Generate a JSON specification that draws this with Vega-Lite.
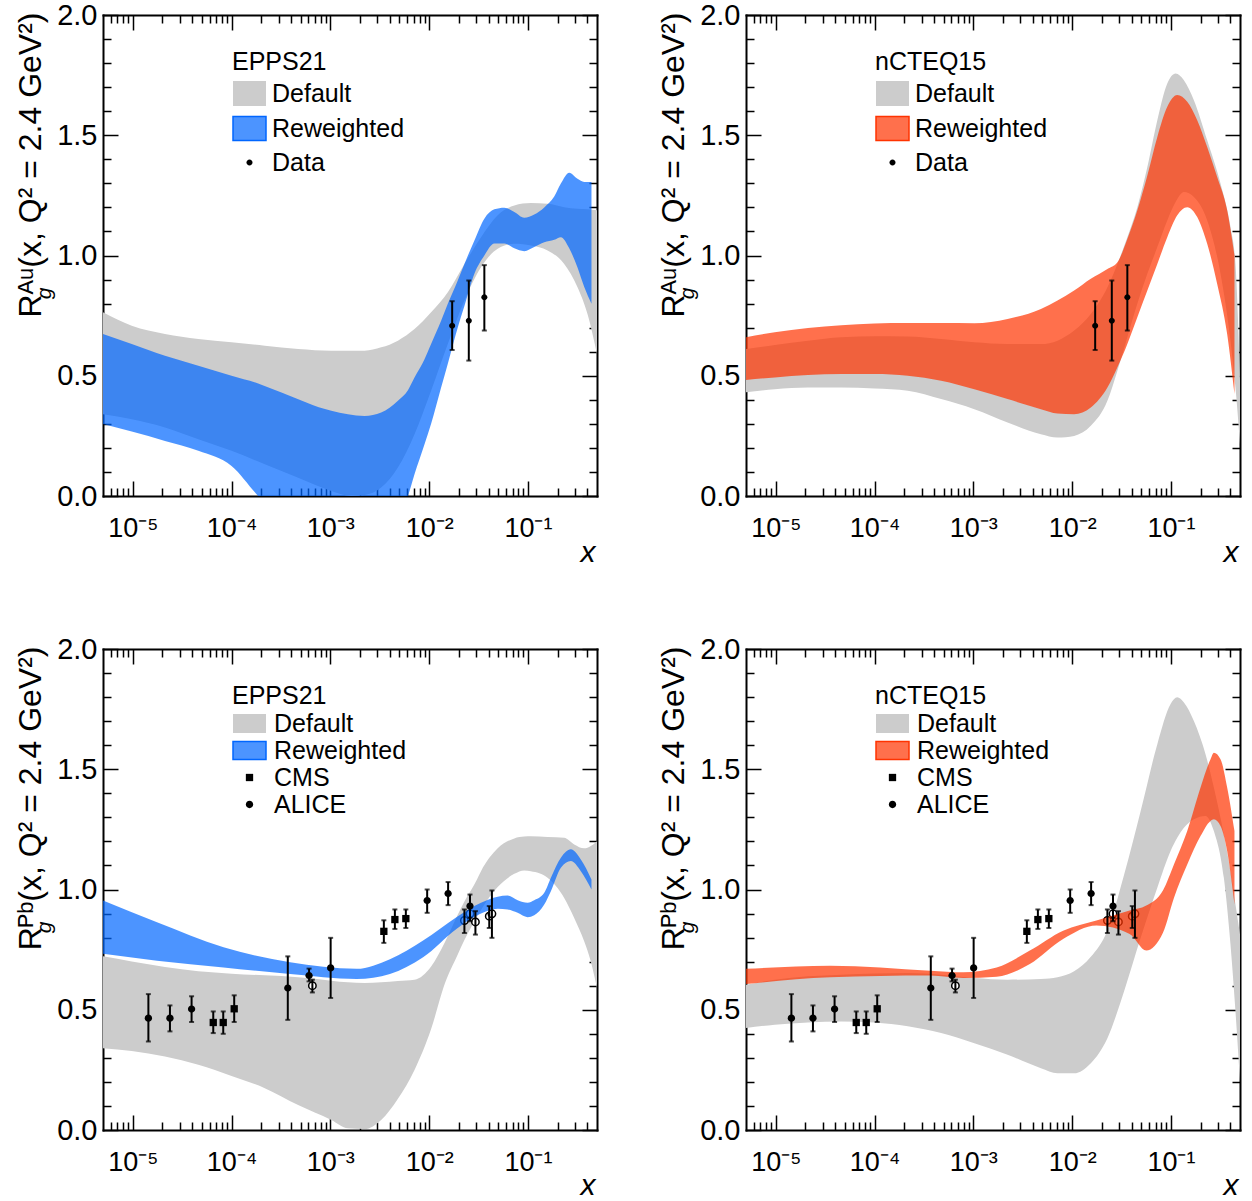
{
  "$schema": "https://vega.github.io/schema/vega-lite/v6.json",
  "autosize": {"type": "none"},
  "padding": {"left": 103, "top": 15, "right": 1149, "bottom": 1186},
  "background": "white",
  "columns": 2,
  "spacing": {"row": 153, "column": 149},
  "bounds": "flush",
  "datasets": {
    "bands": [
      {"panel":"EPPS21-Au","set":"Default","x":0.000005,"lo":0.340,"hi":0.764},
      {"panel":"EPPS21-Au","set":"Default","x":0.00000977,"lo":0.319,"hi":0.708},
      {"panel":"EPPS21-Au","set":"Default","x":0.0000212,"lo":0.285,"hi":0.674},
      {"panel":"EPPS21-Au","set":"Default","x":0.0000461,"lo":0.236,"hi":0.653},
      {"panel":"EPPS21-Au","set":"Default","x":0.0001,"lo":0.188,"hi":0.639},
      {"panel":"EPPS21-Au","set":"Default","x":0.000217,"lo":0.132,"hi":0.625},
      {"panel":"EPPS21-Au","set":"Default","x":0.000472,"lo":0.076,"hi":0.611},
      {"panel":"EPPS21-Au","set":"Default","x":0.001023,"lo":0.021,"hi":0.604},
      {"panel":"EPPS21-Au","set":"Default","x":0.00163,"lo":0.0,"hi":0.604},
      {"panel":"EPPS21-Au","set":"Default","x":0.00222,"lo":0.004,"hi":0.604},
      {"panel":"EPPS21-Au","set":"Default","x":0.00327,"lo":0.035,"hi":0.618},
      {"panel":"EPPS21-Au","set":"Default","x":0.00483,"lo":0.118,"hi":0.646},
      {"panel":"EPPS21-Au","set":"Default","x":0.00711,"lo":0.257,"hi":0.694},
      {"panel":"EPPS21-Au","set":"Default","x":0.01047,"lo":0.438,"hi":0.764},
      {"panel":"EPPS21-Au","set":"Default","x":0.01545,"lo":0.632,"hi":0.847},
      {"panel":"EPPS21-Au","set":"Default","x":0.02275,"lo":0.813,"hi":0.965},
      {"panel":"EPPS21-Au","set":"Default","x":0.0335,"lo":0.951,"hi":1.076},
      {"panel":"EPPS21-Au","set":"Default","x":0.0494,"lo":1.028,"hi":1.167},
      {"panel":"EPPS21-Au","set":"Default","x":0.0728,"lo":1.049,"hi":1.208},
      {"panel":"EPPS21-Au","set":"Default","x":0.1072,"lo":1.042,"hi":1.218},
      {"panel":"EPPS21-Au","set":"Default","x":0.158,"lo":1.021,"hi":1.215},
      {"panel":"EPPS21-Au","set":"Default","x":0.2328,"lo":0.965,"hi":1.201},
      {"panel":"EPPS21-Au","set":"Default","x":0.3175,"lo":0.868,"hi":1.194},
      {"panel":"EPPS21-Au","set":"Default","x":0.4006,"lo":0.757,"hi":1.192},
      {"panel":"EPPS21-Au","set":"Default","x":0.5,"lo":0.590,"hi":1.188},

      {"panel":"EPPS21-Au","set":"Reweighted","x":0.000005,"lo":0.299,"hi":0.674},
      {"panel":"EPPS21-Au","set":"Reweighted","x":0.00000977,"lo":0.268,"hi":0.632},
      {"panel":"EPPS21-Au","set":"Reweighted","x":0.0000212,"lo":0.229,"hi":0.583},
      {"panel":"EPPS21-Au","set":"Reweighted","x":0.0000461,"lo":0.188,"hi":0.542},
      {"panel":"EPPS21-Au","set":"Reweighted","x":0.0001,"lo":0.125,"hi":0.5},
      {"panel":"EPPS21-Au","set":"Reweighted","x":0.000186,"lo":0.0,"hi":0.468},
      {"panel":"EPPS21-Au","set":"Reweighted","x":0.00032,"lo":-0.1,"hi":0.43},
      {"panel":"EPPS21-Au","set":"Reweighted","x":0.001023,"lo":-0.2,"hi":0.354},
      {"panel":"EPPS21-Au","set":"Reweighted","x":0.00222,"lo":-0.18,"hi":0.333},
      {"panel":"EPPS21-Au","set":"Reweighted","x":0.00327,"lo":-0.15,"hi":0.347},
      {"panel":"EPPS21-Au","set":"Reweighted","x":0.00483,"lo":-0.08,"hi":0.396},
      {"panel":"EPPS21-Au","set":"Reweighted","x":0.0061,"lo":0.0,"hi":0.44},
      {"panel":"EPPS21-Au","set":"Reweighted","x":0.00711,"lo":0.09,"hi":0.493},
      {"panel":"EPPS21-Au","set":"Reweighted","x":0.00898,"lo":0.215,"hi":0.569},
      {"panel":"EPPS21-Au","set":"Reweighted","x":0.01047,"lo":0.30,"hi":0.632},
      {"panel":"EPPS21-Au","set":"Reweighted","x":0.01322,"lo":0.451,"hi":0.729},
      {"panel":"EPPS21-Au","set":"Reweighted","x":0.01545,"lo":0.55,"hi":0.799},
      {"panel":"EPPS21-Au","set":"Reweighted","x":0.01948,"lo":0.701,"hi":0.896},
      {"panel":"EPPS21-Au","set":"Reweighted","x":0.02275,"lo":0.79,"hi":0.965},
      {"panel":"EPPS21-Au","set":"Reweighted","x":0.02872,"lo":0.924,"hi":1.0625},
      {"panel":"EPPS21-Au","set":"Reweighted","x":0.0362,"lo":1.0,"hi":1.153},
      {"panel":"EPPS21-Au","set":"Reweighted","x":0.0457,"lo":1.05,"hi":1.192},
      {"panel":"EPPS21-Au","set":"Reweighted","x":0.0577,"lo":1.05,"hi":1.199},
      {"panel":"EPPS21-Au","set":"Reweighted","x":0.0728,"lo":1.03,"hi":1.181},
      {"panel":"EPPS21-Au","set":"Reweighted","x":0.0918,"lo":1.018,"hi":1.157},
      {"panel":"EPPS21-Au","set":"Reweighted","x":0.1158,"lo":1.035,"hi":1.17},
      {"panel":"EPPS21-Au","set":"Reweighted","x":0.1462,"lo":1.055,"hi":1.2},
      {"panel":"EPPS21-Au","set":"Reweighted","x":0.1845,"lo":1.065,"hi":1.245},
      {"panel":"EPPS21-Au","set":"Reweighted","x":0.2154,"lo":1.076,"hi":1.299},
      {"panel":"EPPS21-Au","set":"Reweighted","x":0.2618,"lo":1.03,"hi":1.344},
      {"panel":"EPPS21-Au","set":"Reweighted","x":0.3175,"lo":0.95,"hi":1.319},
      {"panel":"EPPS21-Au","set":"Reweighted","x":0.3707,"lo":0.87,"hi":1.306},
      {"panel":"EPPS21-Au","set":"Reweighted","x":0.4396,"lo":0.799,"hi":1.306},

      {"panel":"nCTEQ15-Au","set":"Default","x":0.000005,"lo":0.431,"hi":0.611},
      {"panel":"nCTEQ15-Au","set":"Default","x":0.00000977,"lo":0.444,"hi":0.628},
      {"panel":"nCTEQ15-Au","set":"Default","x":0.0000212,"lo":0.451,"hi":0.646},
      {"panel":"nCTEQ15-Au","set":"Default","x":0.0000461,"lo":0.451,"hi":0.660},
      {"panel":"nCTEQ15-Au","set":"Default","x":0.0001,"lo":0.447,"hi":0.664},
      {"panel":"nCTEQ15-Au","set":"Default","x":0.000217,"lo":0.438,"hi":0.663},
      {"panel":"nCTEQ15-Au","set":"Default","x":0.000472,"lo":0.403,"hi":0.653},
      {"panel":"nCTEQ15-Au","set":"Default","x":0.001023,"lo":0.361,"hi":0.639},
      {"panel":"nCTEQ15-Au","set":"Default","x":0.00222,"lo":0.306,"hi":0.632},
      {"panel":"nCTEQ15-Au","set":"Default","x":0.00483,"lo":0.257,"hi":0.632},
      {"panel":"nCTEQ15-Au","set":"Default","x":0.00711,"lo":0.243,"hi":0.646},
      {"panel":"nCTEQ15-Au","set":"Default","x":0.01047,"lo":0.25,"hi":0.688},
      {"panel":"nCTEQ15-Au","set":"Default","x":0.01545,"lo":0.292,"hi":0.757},
      {"panel":"nCTEQ15-Au","set":"Default","x":0.02275,"lo":0.396,"hi":0.868},
      {"panel":"nCTEQ15-Au","set":"Default","x":0.02872,"lo":0.521,"hi":0.965},
      {"panel":"nCTEQ15-Au","set":"Default","x":0.0362,"lo":0.660,"hi":1.076},
      {"panel":"nCTEQ15-Au","set":"Default","x":0.0457,"lo":0.799,"hi":1.201},
      {"panel":"nCTEQ15-Au","set":"Default","x":0.0577,"lo":0.924,"hi":1.368},
      {"panel":"nCTEQ15-Au","set":"Default","x":0.0728,"lo":1.035,"hi":1.5625},
      {"panel":"nCTEQ15-Au","set":"Default","x":0.0918,"lo":1.146,"hi":1.715},
      {"panel":"nCTEQ15-Au","set":"Default","x":0.1115,"lo":1.222,"hi":1.757},
      {"panel":"nCTEQ15-Au","set":"Default","x":0.1353,"lo":1.264,"hi":1.729},
      {"panel":"nCTEQ15-Au","set":"Default","x":0.1707,"lo":1.243,"hi":1.646},
      {"panel":"nCTEQ15-Au","set":"Default","x":0.2328,"lo":1.146,"hi":1.479},
      {"panel":"nCTEQ15-Au","set":"Default","x":0.3175,"lo":0.924,"hi":1.299},
      {"panel":"nCTEQ15-Au","set":"Default","x":0.4006,"lo":0.646,"hi":1.118},
      {"panel":"nCTEQ15-Au","set":"Default","x":0.45,"lo":0.451,"hi":0.965},
      {"panel":"nCTEQ15-Au","set":"Default","x":0.5,"lo":0.215,"hi":0.479},

      {"panel":"nCTEQ15-Au","set":"Reweighted","x":0.000005,"lo":0.482,"hi":0.660},
      {"panel":"nCTEQ15-Au","set":"Reweighted","x":0.00000977,"lo":0.493,"hi":0.681},
      {"panel":"nCTEQ15-Au","set":"Reweighted","x":0.0000212,"lo":0.503,"hi":0.699},
      {"panel":"nCTEQ15-Au","set":"Reweighted","x":0.0000461,"lo":0.507,"hi":0.710},
      {"panel":"nCTEQ15-Au","set":"Reweighted","x":0.0001,"lo":0.507,"hi":0.717},
      {"panel":"nCTEQ15-Au","set":"Reweighted","x":0.000217,"lo":0.5,"hi":0.719},
      {"panel":"nCTEQ15-Au","set":"Reweighted","x":0.000472,"lo":0.479,"hi":0.719},
      {"panel":"nCTEQ15-Au","set":"Reweighted","x":0.001023,"lo":0.444,"hi":0.718},
      {"panel":"nCTEQ15-Au","set":"Reweighted","x":0.00222,"lo":0.403,"hi":0.736},
      {"panel":"nCTEQ15-Au","set":"Reweighted","x":0.00483,"lo":0.361,"hi":0.778},
      {"panel":"nCTEQ15-Au","set":"Reweighted","x":0.00711,"lo":0.343,"hi":0.813},
      {"panel":"nCTEQ15-Au","set":"Reweighted","x":0.01047,"lo":0.340,"hi":0.854},
      {"panel":"nCTEQ15-Au","set":"Reweighted","x":0.01545,"lo":0.368,"hi":0.903},
      {"panel":"nCTEQ15-Au","set":"Reweighted","x":0.02275,"lo":0.451,"hi":0.944},
      {"panel":"nCTEQ15-Au","set":"Reweighted","x":0.02872,"lo":0.535,"hi":0.972},
      {"panel":"nCTEQ15-Au","set":"Reweighted","x":0.0362,"lo":0.632,"hi":1.069},
      {"panel":"nCTEQ15-Au","set":"Reweighted","x":0.0457,"lo":0.743,"hi":1.188},
      {"panel":"nCTEQ15-Au","set":"Reweighted","x":0.0577,"lo":0.854,"hi":1.333},
      {"panel":"nCTEQ15-Au","set":"Reweighted","x":0.0728,"lo":0.965,"hi":1.493},
      {"panel":"nCTEQ15-Au","set":"Reweighted","x":0.0918,"lo":1.076,"hi":1.618},
      {"panel":"nCTEQ15-Au","set":"Reweighted","x":0.1158,"lo":1.167,"hi":1.667},
      {"panel":"nCTEQ15-Au","set":"Reweighted","x":0.1462,"lo":1.201,"hi":1.639},
      {"panel":"nCTEQ15-Au","set":"Reweighted","x":0.1845,"lo":1.160,"hi":1.5625},
      {"panel":"nCTEQ15-Au","set":"Reweighted","x":0.2328,"lo":1.049,"hi":1.451},
      {"panel":"nCTEQ15-Au","set":"Reweighted","x":0.2938,"lo":0.882,"hi":1.326},
      {"panel":"nCTEQ15-Au","set":"Reweighted","x":0.3707,"lo":0.674,"hi":1.188},
      {"panel":"nCTEQ15-Au","set":"Reweighted","x":0.4396,"lo":0.424,"hi":1.0},

      {"panel":"EPPS21-Pb","set":"Default","x":0.000005,"lo":0.340,"hi":0.722},
      {"panel":"EPPS21-Pb","set":"Default","x":0.00000977,"lo":0.329,"hi":0.701},
      {"panel":"EPPS21-Pb","set":"Default","x":0.0000212,"lo":0.306,"hi":0.678},
      {"panel":"EPPS21-Pb","set":"Default","x":0.0000461,"lo":0.271,"hi":0.660},
      {"panel":"EPPS21-Pb","set":"Default","x":0.0001,"lo":0.225,"hi":0.650},
      {"panel":"EPPS21-Pb","set":"Default","x":0.000217,"lo":0.174,"hi":0.643},
      {"panel":"EPPS21-Pb","set":"Default","x":0.000472,"lo":0.104,"hi":0.635},
      {"panel":"EPPS21-Pb","set":"Default","x":0.001023,"lo":0.042,"hi":0.621},
      {"panel":"EPPS21-Pb","set":"Default","x":0.001507,"lo":0.007,"hi":0.614},
      {"panel":"EPPS21-Pb","set":"Default","x":0.00222,"lo":0.004,"hi":0.611},
      {"panel":"EPPS21-Pb","set":"Default","x":0.00327,"lo":0.042,"hi":0.614},
      {"panel":"EPPS21-Pb","set":"Default","x":0.00483,"lo":0.13,"hi":0.62},
      {"panel":"EPPS21-Pb","set":"Default","x":0.00711,"lo":0.25,"hi":0.625},
      {"panel":"EPPS21-Pb","set":"Default","x":0.01047,"lo":0.42,"hi":0.68},
      {"panel":"EPPS21-Pb","set":"Default","x":0.01439,"lo":0.608,"hi":0.78},
      {"panel":"EPPS21-Pb","set":"Default","x":0.01948,"lo":0.73,"hi":0.895},
      {"panel":"EPPS21-Pb","set":"Default","x":0.02275,"lo":0.79,"hi":0.95},
      {"panel":"EPPS21-Pb","set":"Default","x":0.0303,"lo":0.885,"hi":1.04},
      {"panel":"EPPS21-Pb","set":"Default","x":0.0335,"lo":0.915,"hi":1.076},
      {"panel":"EPPS21-Pb","set":"Default","x":0.0494,"lo":1.01,"hi":1.171},
      {"panel":"EPPS21-Pb","set":"Default","x":0.0728,"lo":1.065,"hi":1.2125},
      {"panel":"EPPS21-Pb","set":"Default","x":0.0918,"lo":1.079,"hi":1.22},
      {"panel":"EPPS21-Pb","set":"Default","x":0.1072,"lo":1.076,"hi":1.221},
      {"panel":"EPPS21-Pb","set":"Default","x":0.158,"lo":1.049,"hi":1.218},
      {"panel":"EPPS21-Pb","set":"Default","x":0.2328,"lo":0.965,"hi":1.215},
      {"panel":"EPPS21-Pb","set":"Default","x":0.2938,"lo":0.882,"hi":1.1875},
      {"panel":"EPPS21-Pb","set":"Default","x":0.3707,"lo":0.785,"hi":1.171},
      {"panel":"EPPS21-Pb","set":"Default","x":0.4328,"lo":0.701,"hi":1.181},
      {"panel":"EPPS21-Pb","set":"Default","x":0.5,"lo":0.590,"hi":1.201},

      {"panel":"EPPS21-Pb","set":"Reweighted","x":0.000005,"lo":0.733,"hi":0.954},
      {"panel":"EPPS21-Pb","set":"Reweighted","x":0.0000176,"lo":0.704,"hi":0.864},
      {"panel":"EPPS21-Pb","set":"Reweighted","x":0.000083,"lo":0.676,"hi":0.76},
      {"panel":"EPPS21-Pb","set":"Reweighted","x":0.000392,"lo":0.649,"hi":0.697},
      {"panel":"EPPS21-Pb","set":"Reweighted","x":0.001845,"lo":0.628,"hi":0.67},
      {"panel":"EPPS21-Pb","set":"Reweighted","x":0.00401,"lo":0.649,"hi":0.71},
      {"panel":"EPPS21-Pb","set":"Reweighted","x":0.00869,"lo":0.718,"hi":0.7875},
      {"panel":"EPPS21-Pb","set":"Reweighted","x":0.01888,"lo":0.836,"hi":0.885},
      {"panel":"EPPS21-Pb","set":"Reweighted","x":0.0335,"lo":0.9,"hi":0.945},
      {"panel":"EPPS21-Pb","set":"Reweighted","x":0.0494,"lo":0.92,"hi":0.97},
      {"panel":"EPPS21-Pb","set":"Reweighted","x":0.0623,"lo":0.917,"hi":0.975},
      {"panel":"EPPS21-Pb","set":"Reweighted","x":0.0787,"lo":0.903,"hi":0.955},
      {"panel":"EPPS21-Pb","set":"Reweighted","x":0.0992,"lo":0.885,"hi":0.945},
      {"panel":"EPPS21-Pb","set":"Reweighted","x":0.1158,"lo":0.893,"hi":0.955},
      {"panel":"EPPS21-Pb","set":"Reweighted","x":0.1462,"lo":0.9375,"hi":0.986},
      {"panel":"EPPS21-Pb","set":"Reweighted","x":0.1707,"lo":0.993,"hi":1.049},
      {"panel":"EPPS21-Pb","set":"Reweighted","x":0.2154,"lo":1.090,"hi":1.132},
      {"panel":"EPPS21-Pb","set":"Reweighted","x":0.2719,"lo":1.118,"hi":1.167},
      {"panel":"EPPS21-Pb","set":"Reweighted","x":0.3431,"lo":1.076,"hi":1.125},
      {"panel":"EPPS21-Pb","set":"Reweighted","x":0.4396,"lo":1.0,"hi":1.042},

      {"panel":"nCTEQ15-Pb","set":"Default","x":0.000005,"lo":0.424,"hi":0.604},
      {"panel":"nCTEQ15-Pb","set":"Default","x":0.00000977,"lo":0.438,"hi":0.625},
      {"panel":"nCTEQ15-Pb","set":"Default","x":0.0000212,"lo":0.447,"hi":0.639},
      {"panel":"nCTEQ15-Pb","set":"Default","x":0.0000461,"lo":0.451,"hi":0.646},
      {"panel":"nCTEQ15-Pb","set":"Default","x":0.0001,"lo":0.447,"hi":0.651},
      {"panel":"nCTEQ15-Pb","set":"Default","x":0.000217,"lo":0.431,"hi":0.653},
      {"panel":"nCTEQ15-Pb","set":"Default","x":0.000472,"lo":0.403,"hi":0.646},
      {"panel":"nCTEQ15-Pb","set":"Default","x":0.001023,"lo":0.361,"hi":0.632},
      {"panel":"nCTEQ15-Pb","set":"Default","x":0.00222,"lo":0.313,"hi":0.625},
      {"panel":"nCTEQ15-Pb","set":"Default","x":0.00483,"lo":0.257,"hi":0.628},
      {"panel":"nCTEQ15-Pb","set":"Default","x":0.00711,"lo":0.236,"hi":0.635},
      {"panel":"nCTEQ15-Pb","set":"Default","x":0.01047,"lo":0.236,"hi":0.66},
      {"panel":"nCTEQ15-Pb","set":"Default","x":0.01545,"lo":0.278,"hi":0.72},
      {"panel":"nCTEQ15-Pb","set":"Default","x":0.02275,"lo":0.382,"hi":0.83},
      {"panel":"nCTEQ15-Pb","set":"Default","x":0.0335,"lo":0.576,"hi":1.06},
      {"panel":"nCTEQ15-Pb","set":"Default","x":0.0494,"lo":0.799,"hi":1.326},
      {"panel":"nCTEQ15-Pb","set":"Default","x":0.0728,"lo":1.007,"hi":1.604},
      {"panel":"nCTEQ15-Pb","set":"Default","x":0.0992,"lo":1.160,"hi":1.771},
      {"panel":"nCTEQ15-Pb","set":"Default","x":0.1158,"lo":1.215,"hi":1.799},
      {"panel":"nCTEQ15-Pb","set":"Default","x":0.1353,"lo":1.257,"hi":1.778},
      {"panel":"nCTEQ15-Pb","set":"Default","x":0.1707,"lo":1.292,"hi":1.701},
      {"panel":"nCTEQ15-Pb","set":"Default","x":0.2239,"lo":1.306,"hi":1.5625},
      {"panel":"nCTEQ15-Pb","set":"Default","x":0.2719,"lo":1.243,"hi":1.424},
      {"panel":"nCTEQ15-Pb","set":"Default","x":0.3431,"lo":1.049,"hi":1.229},
      {"panel":"nCTEQ15-Pb","set":"Default","x":0.4006,"lo":0.771,"hi":1.076},
      {"panel":"nCTEQ15-Pb","set":"Default","x":0.45,"lo":0.493,"hi":0.9375},
      {"panel":"nCTEQ15-Pb","set":"Default","x":0.5,"lo":0.201,"hi":0.8125},

      {"panel":"nCTEQ15-Pb","set":"Reweighted","x":0.000005,"lo":0.607,"hi":0.67},
      {"panel":"nCTEQ15-Pb","set":"Reweighted","x":0.0000356,"lo":0.635,"hi":0.683},
      {"panel":"nCTEQ15-Pb","set":"Reweighted","x":0.000365,"lo":0.642,"hi":0.6625},
      {"panel":"nCTEQ15-Pb","set":"Reweighted","x":0.000792,"lo":0.632,"hi":0.656},
      {"panel":"nCTEQ15-Pb","set":"Reweighted","x":0.00172,"lo":0.6375,"hi":0.676},
      {"panel":"nCTEQ15-Pb","set":"Reweighted","x":0.00373,"lo":0.69,"hi":0.746},
      {"panel":"nCTEQ15-Pb","set":"Reweighted","x":0.0081,"lo":0.794,"hi":0.829},
      {"panel":"nCTEQ15-Pb","set":"Reweighted","x":0.01761,"lo":0.85,"hi":0.871},
      {"panel":"nCTEQ15-Pb","set":"Reweighted","x":0.0382,"lo":0.815,"hi":0.9125},
      {"panel":"nCTEQ15-Pb","set":"Reweighted","x":0.0563,"lo":0.746,"hi":0.933},
      {"panel":"nCTEQ15-Pb","set":"Reweighted","x":0.083,"lo":0.82,"hi":0.996},
      {"panel":"nCTEQ15-Pb","set":"Reweighted","x":0.1072,"lo":0.965,"hi":1.104},
      {"panel":"nCTEQ15-Pb","set":"Reweighted","x":0.1462,"lo":1.104,"hi":1.243},
      {"panel":"nCTEQ15-Pb","set":"Reweighted","x":0.1993,"lo":1.222,"hi":1.424},
      {"panel":"nCTEQ15-Pb","set":"Reweighted","x":0.2516,"lo":1.285,"hi":1.542},
      {"panel":"nCTEQ15-Pb","set":"Reweighted","x":0.2719,"lo":1.292,"hi":1.569},
      {"panel":"nCTEQ15-Pb","set":"Reweighted","x":0.3175,"lo":1.264,"hi":1.542},
      {"panel":"nCTEQ15-Pb","set":"Reweighted","x":0.3707,"lo":1.160,"hi":1.424},
      {"panel":"nCTEQ15-Pb","set":"Reweighted","x":0.4396,"lo":0.9375,"hi":1.243}
    ],
    "au": [
      {"series":"Data","x":0.0171,"y":0.708,"lo":0.607,"hi":0.810},
      {"series":"Data","x":0.0252,"y":0.729,"lo":0.563,"hi":0.896},
      {"series":"Data","x":0.0362,"y":0.826,"lo":0.688,"hi":0.960}
    ],
    "pb": [
      {"series":"ALICE","x":0.0000144,"y":0.465,"lo":0.368,"hi":0.565},
      {"series":"ALICE","x":0.0000238,"y":0.465,"lo":0.410,"hi":0.518},
      {"series":"ALICE","x":0.0000394,"y":0.503,"lo":0.449,"hi":0.556},
      {"series":"ALICE","x":0.000371,"y":0.590,"lo":0.458,"hi":0.722},
      {"series":"ALICE","x":0.000609,"y":0.642,"lo":0.618,"hi":0.671},
      {"series":"ALICE","x":0.001007,"y":0.674,"lo":0.549,"hi":0.799},
      {"series":"ALICE","x":0.00955,"y":0.954,"lo":0.903,"hi":1.0},
      {"series":"ALICE","x":0.01556,"y":0.983,"lo":0.935,"hi":1.031},
      {"series":"ALICE","x":0.0259,"y":0.931,"lo":0.882,"hi":0.979},
      {"series":"CMS","x":0.0000653,"y":0.447,"lo":0.403,"hi":0.493},
      {"series":"CMS","x":0.0000824,"y":0.447,"lo":0.400,"hi":0.493},
      {"series":"CMS","x":0.0001064,"y":0.504,"lo":0.449,"hi":0.560},
      {"series":"CMS","x":0.00348,"y":0.826,"lo":0.778,"hi":0.872},
      {"series":"CMS","x":0.0045,"y":0.875,"lo":0.836,"hi":0.917},
      {"series":"CMS","x":0.00581,"y":0.879,"lo":0.840,"hi":0.917},
      {"series":"ALICE (open)","x":0.000658,"y":0.600,"lo":0.572,"hi":0.625},
      {"series":"ALICE (open)","x":0.02275,"y":0.871,"lo":0.819,"hi":0.917},
      {"series":"ALICE (open)","x":0.0259,"y":0.899,"lo":0.868,"hi":0.924},
      {"series":"ALICE (open)","x":0.0294,"y":0.865,"lo":0.8125,"hi":0.910},
      {"series":"ALICE (open)","x":0.0406,"y":0.889,"lo":0.840,"hi":0.931},
      {"series":"ALICE (open)","x":0.0432,"y":0.899,"lo":0.799,"hi":0.996}
    ]
  },
  "concat": [
    {
      "width": 494, "height": 481,
      "layer": [
        {
          "data": {"name": "bands"},
          "transform": [{"filter": "datum.panel === 'EPPS21-Au' && datum.set === 'Default'"}],
          "mark": {"type": "area", "color": "#cccccc", "opacity": 1, "clip": true, "interpolate": "monotone"},
          "encoding": {
            "x": {"field": "x", "type": "quantitative", "scale": {"type": "log", "domain": [0.000005, 0.5], "nice": false},
              "axis": {"orient": "bottom", "values": [0.000006,0.000007,0.000008,0.000009,0.00001,0.00002,0.00003,0.00004,0.00005,0.00006,0.00007,0.00008,0.00009,0.0001,0.0002,0.0003,0.0004,0.0005,0.0006,0.0007,0.0008,0.0009,0.001,0.002,0.003,0.004,0.005,0.006,0.007,0.008,0.009,0.01,0.02,0.03,0.04,0.05,0.06,0.07,0.08,0.09,0.1,0.2,0.3,0.4],
                "tickSize": {"condition": {"test": "abs(log(datum.value)/LN10 - round(log(datum.value)/LN10)) < 0.01", "value": -15}, "value": -8},
                "labelExpr": "abs(log(datum.value)/LN10 - round(log(datum.value)/LN10)) < 0.01 ? ['10⁻⁵','10⁻⁴','10⁻³','10⁻²','10⁻¹'][round(log(datum.value)/LN10) + 5] : ''",
                "labelFontSize": 27, "labelPadding": 34, "labelBaseline": "top", "labelAlign": "center",
                "title": "x", "titleFontSize": 30, "titleFontStyle": "italic", "titleAlign": "right", "titleBaseline": "alphabetic", "titleX": 492, "titleY": 65}},
            "y": {"field": "lo", "type": "quantitative", "scale": {"domain": [0, 2], "nice": false, "zero": false},
              "axis": {"orient": "left", "values": [0,0.1,0.2,0.3,0.4,0.5,0.6,0.7,0.8,0.9,1,1.1,1.2,1.3,1.4,1.5,1.6,1.7,1.8,1.9,2],
                "tickSize": {"condition": {"test": "abs(datum.value*2 - round(datum.value*2)) < 0.001", "value": -15}, "value": -8},
                "labelExpr": "abs(datum.value*2 - round(datum.value*2)) < 0.001 ? format(datum.value, '.1f') : ''",
                "labelFontSize": 29, "labelPadding": 21,
                "title": "Rᴬᵘ(x, Q² = 2.4 GeV²)", "titleFontSize": 32, "titleAngle": 270, "titleAlign": "right", "titleBaseline": "alphabetic", "titleX": -63, "titleY": -3}},
            "y2": {"field": "hi"}
          }
        },
        {
          "data": {"name": "bands"},
          "transform": [{"filter": "datum.panel === 'EPPS21-Au' && datum.set === 'Reweighted'"}],
          "mark": {"type": "area", "color": "rgba(0,102,255,0.7)", "opacity": 1, "clip": true, "interpolate": "monotone"},
          "encoding": {
            "x": {"field": "x", "type": "quantitative", "scale": {"type": "log", "domain": [0.000005, 0.5], "nice": false},
              "axis": {"orient": "top", "values": [0.000006,0.000007,0.000008,0.000009,0.00001,0.00002,0.00003,0.00004,0.00005,0.00006,0.00007,0.00008,0.00009,0.0001,0.0002,0.0003,0.0004,0.0005,0.0006,0.0007,0.0008,0.0009,0.001,0.002,0.003,0.004,0.005,0.006,0.007,0.008,0.009,0.01,0.02,0.03,0.04,0.05,0.06,0.07,0.08,0.09,0.1,0.2,0.3,0.4],
                "tickSize": {"condition": {"test": "abs(log(datum.value)/LN10 - round(log(datum.value)/LN10)) < 0.01", "value": -15}, "value": -8},
                "labels": false, "title": null}},
            "y": {"field": "lo", "type": "quantitative", "scale": {"domain": [0, 2], "nice": false, "zero": false},
              "axis": {"orient": "right", "values": [0,0.1,0.2,0.3,0.4,0.5,0.6,0.7,0.8,0.9,1,1.1,1.2,1.3,1.4,1.5,1.6,1.7,1.8,1.9,2],
                "tickSize": {"condition": {"test": "abs(datum.value*2 - round(datum.value*2)) < 0.001", "value": -15}, "value": -8},
                "labels": false,
                "title": "g", "titleFontSize": 21, "titleFontStyle": "italic", "titleAngle": 270, "titleAlign": "center", "titleBaseline": "alphabetic", "titleX": -547, "titleY": 278}},
            "y2": {"field": "hi"}
          }
        },
        {
          "data": {"name": "au"},
          "mark": {"type": "errorbar", "ticks": true, "size": 5, "thickness": 2, "color": "black"},
          "encoding": {
            "x": {"field": "x", "type": "quantitative", "scale": {"type": "log", "domain": [0.000005, 0.5], "nice": false}, "axis": null},
            "y": {"field": "lo", "type": "quantitative", "scale": {"domain": [0, 2], "nice": false, "zero": false}, "axis": null},
            "y2": {"field": "hi"}
          }
        },
        {
          "data": {"name": "au"},
          "mark": {"type": "point", "filled": true, "opacity": 1, "strokeWidth": 1.5, "size": 1089},
          "encoding": {
            "x": {"field": "x", "type": "quantitative", "scale": {"type": "log", "domain": [0.000005, 0.5], "nice": false}, "axis": null},
            "y": {"field": "y", "type": "quantitative", "scale": {"domain": [0, 2], "nice": false, "zero": false}, "axis": null},
            "fill": {"field": "series", "type": "nominal", "scale": {"domain": ["Default", "Reweighted", "Data"], "range": ["#cccccc", "rgba(0,102,255,0.7)", "black"]},
              "legend": {"title": "EPPS21", "orient": "none", "legendX": 129, "legendY": 35, "rowPadding": 1, "titlePadding": 1, "symbolSize": 1089}},
            "stroke": {"field": "series", "type": "nominal", "scale": {"domain": ["Default", "Reweighted", "Data"], "range": ["transparent", "#0066ff", "transparent"]}},
            "shape": {"field": "series", "type": "nominal", "scale": {"domain": ["Default", "Reweighted", "Data"], "range": ["M-1,-0.758H1V0.758H-1Z", "M-1,-0.727H1V0.727H-1Z", "M0.182,0A0.182,0.182 0 1,1 -0.182,0A0.182,0.182 0 1,1 0.182,0Z"]}}
          }
        }
      ],
      "resolve": {"axis": {"x": "independent", "y": "independent"}}
    },
    {
      "width": 494, "height": 481,
      "layer": [
        {
          "data": {"name": "bands"},
          "transform": [{"filter": "datum.panel === 'nCTEQ15-Au' && datum.set === 'Default'"}],
          "mark": {"type": "area", "color": "#cccccc", "opacity": 1, "clip": true, "interpolate": "monotone"},
          "encoding": {
            "x": {"field": "x", "type": "quantitative", "scale": {"type": "log", "domain": [0.000005, 0.5], "nice": false},
              "axis": {"orient": "bottom", "values": [0.000006,0.000007,0.000008,0.000009,0.00001,0.00002,0.00003,0.00004,0.00005,0.00006,0.00007,0.00008,0.00009,0.0001,0.0002,0.0003,0.0004,0.0005,0.0006,0.0007,0.0008,0.0009,0.001,0.002,0.003,0.004,0.005,0.006,0.007,0.008,0.009,0.01,0.02,0.03,0.04,0.05,0.06,0.07,0.08,0.09,0.1,0.2,0.3,0.4],
                "tickSize": {"condition": {"test": "abs(log(datum.value)/LN10 - round(log(datum.value)/LN10)) < 0.01", "value": -15}, "value": -8},
                "labelExpr": "abs(log(datum.value)/LN10 - round(log(datum.value)/LN10)) < 0.01 ? ['10⁻⁵','10⁻⁴','10⁻³','10⁻²','10⁻¹'][round(log(datum.value)/LN10) + 5] : ''",
                "labelFontSize": 27, "labelPadding": 34, "labelBaseline": "top", "labelAlign": "center",
                "title": "x", "titleFontSize": 30, "titleFontStyle": "italic", "titleAlign": "right", "titleBaseline": "alphabetic", "titleX": 492, "titleY": 65}},
            "y": {"field": "lo", "type": "quantitative", "scale": {"domain": [0, 2], "nice": false, "zero": false},
              "axis": {"orient": "left", "values": [0,0.1,0.2,0.3,0.4,0.5,0.6,0.7,0.8,0.9,1,1.1,1.2,1.3,1.4,1.5,1.6,1.7,1.8,1.9,2],
                "tickSize": {"condition": {"test": "abs(datum.value*2 - round(datum.value*2)) < 0.001", "value": -15}, "value": -8},
                "labelExpr": "abs(datum.value*2 - round(datum.value*2)) < 0.001 ? format(datum.value, '.1f') : ''",
                "labelFontSize": 29, "labelPadding": 21,
                "title": "Rᴬᵘ(x, Q² = 2.4 GeV²)", "titleFontSize": 32, "titleAngle": 270, "titleAlign": "right", "titleBaseline": "alphabetic", "titleX": -63, "titleY": -3}},
            "y2": {"field": "hi"}
          }
        },
        {
          "data": {"name": "bands"},
          "transform": [{"filter": "datum.panel === 'nCTEQ15-Au' && datum.set === 'Reweighted'"}],
          "mark": {"type": "area", "color": "rgba(255,51,0,0.7)", "opacity": 1, "clip": true, "interpolate": "monotone"},
          "encoding": {
            "x": {"field": "x", "type": "quantitative", "scale": {"type": "log", "domain": [0.000005, 0.5], "nice": false},
              "axis": {"orient": "top", "values": [0.000006,0.000007,0.000008,0.000009,0.00001,0.00002,0.00003,0.00004,0.00005,0.00006,0.00007,0.00008,0.00009,0.0001,0.0002,0.0003,0.0004,0.0005,0.0006,0.0007,0.0008,0.0009,0.001,0.002,0.003,0.004,0.005,0.006,0.007,0.008,0.009,0.01,0.02,0.03,0.04,0.05,0.06,0.07,0.08,0.09,0.1,0.2,0.3,0.4],
                "tickSize": {"condition": {"test": "abs(log(datum.value)/LN10 - round(log(datum.value)/LN10)) < 0.01", "value": -15}, "value": -8},
                "labels": false, "title": null}},
            "y": {"field": "lo", "type": "quantitative", "scale": {"domain": [0, 2], "nice": false, "zero": false},
              "axis": {"orient": "right", "values": [0,0.1,0.2,0.3,0.4,0.5,0.6,0.7,0.8,0.9,1,1.1,1.2,1.3,1.4,1.5,1.6,1.7,1.8,1.9,2],
                "tickSize": {"condition": {"test": "abs(datum.value*2 - round(datum.value*2)) < 0.001", "value": -15}, "value": -8},
                "labels": false,
                "title": "g", "titleFontSize": 21, "titleFontStyle": "italic", "titleAngle": 270, "titleAlign": "center", "titleBaseline": "alphabetic", "titleX": -547, "titleY": 278}},
            "y2": {"field": "hi"}
          }
        },
        {
          "data": {"name": "au"},
          "mark": {"type": "errorbar", "ticks": true, "size": 5, "thickness": 2, "color": "black"},
          "encoding": {
            "x": {"field": "x", "type": "quantitative", "scale": {"type": "log", "domain": [0.000005, 0.5], "nice": false}, "axis": null},
            "y": {"field": "lo", "type": "quantitative", "scale": {"domain": [0, 2], "nice": false, "zero": false}, "axis": null},
            "y2": {"field": "hi"}
          }
        },
        {
          "data": {"name": "au"},
          "mark": {"type": "point", "filled": true, "opacity": 1, "strokeWidth": 1.5, "size": 1089},
          "encoding": {
            "x": {"field": "x", "type": "quantitative", "scale": {"type": "log", "domain": [0.000005, 0.5], "nice": false}, "axis": null},
            "y": {"field": "y", "type": "quantitative", "scale": {"domain": [0, 2], "nice": false, "zero": false}, "axis": null},
            "fill": {"field": "series", "type": "nominal", "scale": {"domain": ["Default", "Reweighted", "Data"], "range": ["#cccccc", "rgba(255,51,0,0.7)", "black"]},
              "legend": {"title": "nCTEQ15", "orient": "none", "legendX": 129, "legendY": 35, "rowPadding": 1, "titlePadding": 1, "symbolSize": 1089}},
            "stroke": {"field": "series", "type": "nominal", "scale": {"domain": ["Default", "Reweighted", "Data"], "range": ["transparent", "#ff3300", "transparent"]}},
            "shape": {"field": "series", "type": "nominal", "scale": {"domain": ["Default", "Reweighted", "Data"], "range": ["M-1,-0.758H1V0.758H-1Z", "M-1,-0.727H1V0.727H-1Z", "M0.182,0A0.182,0.182 0 1,1 -0.182,0A0.182,0.182 0 1,1 0.182,0Z"]}}
          }
        }
      ],
      "resolve": {"axis": {"x": "independent", "y": "independent"}}
    },
    {
      "width": 494, "height": 481,
      "layer": [
        {
          "data": {"name": "bands"},
          "transform": [{"filter": "datum.panel === 'EPPS21-Pb' && datum.set === 'Default'"}],
          "mark": {"type": "area", "color": "#cccccc", "opacity": 1, "clip": true, "interpolate": "monotone"},
          "encoding": {
            "x": {"field": "x", "type": "quantitative", "scale": {"type": "log", "domain": [0.000005, 0.5], "nice": false},
              "axis": {"orient": "bottom", "values": [0.000006,0.000007,0.000008,0.000009,0.00001,0.00002,0.00003,0.00004,0.00005,0.00006,0.00007,0.00008,0.00009,0.0001,0.0002,0.0003,0.0004,0.0005,0.0006,0.0007,0.0008,0.0009,0.001,0.002,0.003,0.004,0.005,0.006,0.007,0.008,0.009,0.01,0.02,0.03,0.04,0.05,0.06,0.07,0.08,0.09,0.1,0.2,0.3,0.4],
                "tickSize": {"condition": {"test": "abs(log(datum.value)/LN10 - round(log(datum.value)/LN10)) < 0.01", "value": -15}, "value": -8},
                "labelExpr": "abs(log(datum.value)/LN10 - round(log(datum.value)/LN10)) < 0.01 ? ['10⁻⁵','10⁻⁴','10⁻³','10⁻²','10⁻¹'][round(log(datum.value)/LN10) + 5] : ''",
                "labelFontSize": 27, "labelPadding": 34, "labelBaseline": "top", "labelAlign": "center",
                "title": "x", "titleFontSize": 30, "titleFontStyle": "italic", "titleAlign": "right", "titleBaseline": "alphabetic", "titleX": 492, "titleY": 64}},
            "y": {"field": "lo", "type": "quantitative", "scale": {"domain": [0, 2], "nice": false, "zero": false},
              "axis": {"orient": "left", "values": [0,0.1,0.2,0.3,0.4,0.5,0.6,0.7,0.8,0.9,1,1.1,1.2,1.3,1.4,1.5,1.6,1.7,1.8,1.9,2],
                "tickSize": {"condition": {"test": "abs(datum.value*2 - round(datum.value*2)) < 0.001", "value": -15}, "value": -8},
                "labelExpr": "abs(datum.value*2 - round(datum.value*2)) < 0.001 ? format(datum.value, '.1f') : ''",
                "labelFontSize": 29, "labelPadding": 21,
                "title": "Rᴾᵇ(x, Q² = 2.4 GeV²)", "titleFontSize": 32, "titleAngle": 270, "titleAlign": "right", "titleBaseline": "alphabetic", "titleX": -63, "titleY": -3}},
            "y2": {"field": "hi"}
          }
        },
        {
          "data": {"name": "pb"},
          "transform": [{"filter": "datum.series === 'ALICE (open)'"}],
          "mark": {"type": "point", "shape": "circle", "filled": true, "color": "white", "stroke": "black", "strokeWidth": 1.5, "size": 55, "opacity": 1},
          "encoding": {
            "x": {"field": "x", "type": "quantitative", "scale": {"type": "log", "domain": [0.000005, 0.5], "nice": false}, "axis": null},
            "y": {"field": "y", "type": "quantitative", "scale": {"domain": [0, 2], "nice": false, "zero": false}, "axis": null}
          }
        },
        {
          "data": {"name": "bands"},
          "transform": [{"filter": "datum.panel === 'EPPS21-Pb' && datum.set === 'Reweighted'"}],
          "mark": {"type": "area", "color": "rgba(0,102,255,0.7)", "opacity": 1, "clip": true, "interpolate": "monotone"},
          "encoding": {
            "x": {"field": "x", "type": "quantitative", "scale": {"type": "log", "domain": [0.000005, 0.5], "nice": false},
              "axis": {"orient": "top", "values": [0.000006,0.000007,0.000008,0.000009,0.00001,0.00002,0.00003,0.00004,0.00005,0.00006,0.00007,0.00008,0.00009,0.0001,0.0002,0.0003,0.0004,0.0005,0.0006,0.0007,0.0008,0.0009,0.001,0.002,0.003,0.004,0.005,0.006,0.007,0.008,0.009,0.01,0.02,0.03,0.04,0.05,0.06,0.07,0.08,0.09,0.1,0.2,0.3,0.4],
                "tickSize": {"condition": {"test": "abs(log(datum.value)/LN10 - round(log(datum.value)/LN10)) < 0.01", "value": -15}, "value": -8},
                "labels": false, "title": null}},
            "y": {"field": "lo", "type": "quantitative", "scale": {"domain": [0, 2], "nice": false, "zero": false},
              "axis": {"orient": "right", "values": [0,0.1,0.2,0.3,0.4,0.5,0.6,0.7,0.8,0.9,1,1.1,1.2,1.3,1.4,1.5,1.6,1.7,1.8,1.9,2],
                "tickSize": {"condition": {"test": "abs(datum.value*2 - round(datum.value*2)) < 0.001", "value": -15}, "value": -8},
                "labels": false,
                "title": "g", "titleFontSize": 21, "titleFontStyle": "italic", "titleAngle": 270, "titleAlign": "center", "titleBaseline": "alphabetic", "titleX": -547, "titleY": 278}},
            "y2": {"field": "hi"}
          }
        },
        {
          "data": {"name": "pb"},
          "mark": {"type": "errorbar", "ticks": true, "size": 5, "thickness": 2, "color": "black"},
          "encoding": {
            "x": {"field": "x", "type": "quantitative", "scale": {"type": "log", "domain": [0.000005, 0.5], "nice": false}, "axis": null},
            "y": {"field": "lo", "type": "quantitative", "scale": {"domain": [0, 2], "nice": false, "zero": false}, "axis": null},
            "y2": {"field": "hi"}
          }
        },
        {
          "data": {"name": "pb"},
          "transform": [{"filter": "datum.series !== 'ALICE (open)'"}],
          "mark": {"type": "point", "filled": true, "opacity": 1, "strokeWidth": 1.5, "size": 625},
          "encoding": {
            "x": {"field": "x", "type": "quantitative", "scale": {"type": "log", "domain": [0.000005, 0.5], "nice": false}, "axis": null},
            "y": {"field": "y", "type": "quantitative", "scale": {"domain": [0, 2], "nice": false, "zero": false}, "axis": null},
            "fill": {"field": "series", "type": "nominal", "scale": {"domain": ["Default", "Reweighted", "CMS", "ALICE"], "range": ["#cccccc", "rgba(0,102,255,0.7)", "black", "black"]},
              "legend": {"title": "EPPS21", "orient": "none", "legendX": 129, "legendY": 35, "rowPadding": -2, "titlePadding": 1, "symbolSize": 625, "symbolOffset": 4, "labelOffset": 11}},
            "stroke": {"field": "series", "type": "nominal", "scale": {"domain": ["Default", "Reweighted", "CMS", "ALICE"], "range": ["transparent", "#0066ff", "transparent", "transparent"]}},
            "shape": {"field": "series", "type": "nominal", "scale": {"domain": ["Default", "Reweighted", "CMS", "ALICE"], "range": ["M-1.32,-0.76H1.32V0.76H-1.32Z", "M-1.32,-0.72H1.32V0.72H-1.32Z", "M-0.292,-0.292H0.292V0.292H-0.292Z", "M0.292,0A0.292,0.292 0 1,1 -0.292,0A0.292,0.292 0 1,1 0.292,0Z"]}}
          }
        }
      ],
      "resolve": {"axis": {"x": "independent", "y": "independent"}}
    },
    {
      "width": 494, "height": 481,
      "layer": [
        {
          "data": {"name": "bands"},
          "transform": [{"filter": "datum.panel === 'nCTEQ15-Pb' && datum.set === 'Default'"}],
          "mark": {"type": "area", "color": "#cccccc", "opacity": 1, "clip": true, "interpolate": "monotone"},
          "encoding": {
            "x": {"field": "x", "type": "quantitative", "scale": {"type": "log", "domain": [0.000005, 0.5], "nice": false},
              "axis": {"orient": "bottom", "values": [0.000006,0.000007,0.000008,0.000009,0.00001,0.00002,0.00003,0.00004,0.00005,0.00006,0.00007,0.00008,0.00009,0.0001,0.0002,0.0003,0.0004,0.0005,0.0006,0.0007,0.0008,0.0009,0.001,0.002,0.003,0.004,0.005,0.006,0.007,0.008,0.009,0.01,0.02,0.03,0.04,0.05,0.06,0.07,0.08,0.09,0.1,0.2,0.3,0.4],
                "tickSize": {"condition": {"test": "abs(log(datum.value)/LN10 - round(log(datum.value)/LN10)) < 0.01", "value": -15}, "value": -8},
                "labelExpr": "abs(log(datum.value)/LN10 - round(log(datum.value)/LN10)) < 0.01 ? ['10⁻⁵','10⁻⁴','10⁻³','10⁻²','10⁻¹'][round(log(datum.value)/LN10) + 5] : ''",
                "labelFontSize": 27, "labelPadding": 34, "labelBaseline": "top", "labelAlign": "center",
                "title": "x", "titleFontSize": 30, "titleFontStyle": "italic", "titleAlign": "right", "titleBaseline": "alphabetic", "titleX": 492, "titleY": 64}},
            "y": {"field": "lo", "type": "quantitative", "scale": {"domain": [0, 2], "nice": false, "zero": false},
              "axis": {"orient": "left", "values": [0,0.1,0.2,0.3,0.4,0.5,0.6,0.7,0.8,0.9,1,1.1,1.2,1.3,1.4,1.5,1.6,1.7,1.8,1.9,2],
                "tickSize": {"condition": {"test": "abs(datum.value*2 - round(datum.value*2)) < 0.001", "value": -15}, "value": -8},
                "labelExpr": "abs(datum.value*2 - round(datum.value*2)) < 0.001 ? format(datum.value, '.1f') : ''",
                "labelFontSize": 29, "labelPadding": 21,
                "title": "Rᴾᵇ(x, Q² = 2.4 GeV²)", "titleFontSize": 32, "titleAngle": 270, "titleAlign": "right", "titleBaseline": "alphabetic", "titleX": -63, "titleY": -3}},
            "y2": {"field": "hi"}
          }
        },
        {
          "data": {"name": "pb"},
          "transform": [{"filter": "datum.series === 'ALICE (open)'"}],
          "mark": {"type": "point", "shape": "circle", "filled": true, "color": "white", "stroke": "black", "strokeWidth": 1.5, "size": 55, "opacity": 1},
          "encoding": {
            "x": {"field": "x", "type": "quantitative", "scale": {"type": "log", "domain": [0.000005, 0.5], "nice": false}, "axis": null},
            "y": {"field": "y", "type": "quantitative", "scale": {"domain": [0, 2], "nice": false, "zero": false}, "axis": null}
          }
        },
        {
          "data": {"name": "bands"},
          "transform": [{"filter": "datum.panel === 'nCTEQ15-Pb' && datum.set === 'Reweighted'"}],
          "mark": {"type": "area", "color": "rgba(255,51,0,0.7)", "opacity": 1, "clip": true, "interpolate": "monotone"},
          "encoding": {
            "x": {"field": "x", "type": "quantitative", "scale": {"type": "log", "domain": [0.000005, 0.5], "nice": false},
              "axis": {"orient": "top", "values": [0.000006,0.000007,0.000008,0.000009,0.00001,0.00002,0.00003,0.00004,0.00005,0.00006,0.00007,0.00008,0.00009,0.0001,0.0002,0.0003,0.0004,0.0005,0.0006,0.0007,0.0008,0.0009,0.001,0.002,0.003,0.004,0.005,0.006,0.007,0.008,0.009,0.01,0.02,0.03,0.04,0.05,0.06,0.07,0.08,0.09,0.1,0.2,0.3,0.4],
                "tickSize": {"condition": {"test": "abs(log(datum.value)/LN10 - round(log(datum.value)/LN10)) < 0.01", "value": -15}, "value": -8},
                "labels": false, "title": null}},
            "y": {"field": "lo", "type": "quantitative", "scale": {"domain": [0, 2], "nice": false, "zero": false},
              "axis": {"orient": "right", "values": [0,0.1,0.2,0.3,0.4,0.5,0.6,0.7,0.8,0.9,1,1.1,1.2,1.3,1.4,1.5,1.6,1.7,1.8,1.9,2],
                "tickSize": {"condition": {"test": "abs(datum.value*2 - round(datum.value*2)) < 0.001", "value": -15}, "value": -8},
                "labels": false,
                "title": "g", "titleFontSize": 21, "titleFontStyle": "italic", "titleAngle": 270, "titleAlign": "center", "titleBaseline": "alphabetic", "titleX": -547, "titleY": 278}},
            "y2": {"field": "hi"}
          }
        },
        {
          "data": {"name": "pb"},
          "mark": {"type": "errorbar", "ticks": true, "size": 5, "thickness": 2, "color": "black"},
          "encoding": {
            "x": {"field": "x", "type": "quantitative", "scale": {"type": "log", "domain": [0.000005, 0.5], "nice": false}, "axis": null},
            "y": {"field": "lo", "type": "quantitative", "scale": {"domain": [0, 2], "nice": false, "zero": false}, "axis": null},
            "y2": {"field": "hi"}
          }
        },
        {
          "data": {"name": "pb"},
          "transform": [{"filter": "datum.series !== 'ALICE (open)'"}],
          "mark": {"type": "point", "filled": true, "opacity": 1, "strokeWidth": 1.5, "size": 625},
          "encoding": {
            "x": {"field": "x", "type": "quantitative", "scale": {"type": "log", "domain": [0.000005, 0.5], "nice": false}, "axis": null},
            "y": {"field": "y", "type": "quantitative", "scale": {"domain": [0, 2], "nice": false, "zero": false}, "axis": null},
            "fill": {"field": "series", "type": "nominal", "scale": {"domain": ["Default", "Reweighted", "CMS", "ALICE"], "range": ["#cccccc", "rgba(255,51,0,0.7)", "black", "black"]},
              "legend": {"title": "nCTEQ15", "orient": "none", "legendX": 129, "legendY": 35, "rowPadding": -2, "titlePadding": 1, "symbolSize": 625, "symbolOffset": 4, "labelOffset": 11}},
            "stroke": {"field": "series", "type": "nominal", "scale": {"domain": ["Default", "Reweighted", "CMS", "ALICE"], "range": ["transparent", "#ff3300", "transparent", "transparent"]}},
            "shape": {"field": "series", "type": "nominal", "scale": {"domain": ["Default", "Reweighted", "CMS", "ALICE"], "range": ["M-1.32,-0.76H1.32V0.76H-1.32Z", "M-1.32,-0.72H1.32V0.72H-1.32Z", "M-0.292,-0.292H0.292V0.292H-0.292Z", "M0.292,0A0.292,0.292 0 1,1 -0.292,0A0.292,0.292 0 1,1 0.292,0Z"]}}
          }
        }
      ],
      "resolve": {"axis": {"x": "independent", "y": "independent"}}
    }
  ],
  "resolve": {
    "scale": {"fill": "independent", "stroke": "independent", "shape": "independent", "size": "independent"},
    "legend": {"fill": "independent", "stroke": "independent", "shape": "independent", "size": "independent"}
  },
  "config": {
    "font": "Liberation Sans",
    "view": {"stroke": null},
    "axis": {
      "domainColor": "black", "domainWidth": 2, "domainCap": "square",
      "tickColor": "black", "tickWidth": 1.5,
      "labelColor": "black", "titleColor": "black", "titleFontWeight": "normal",
      "labelFont": "Liberation Sans", "titleFont": "Liberation Sans",
      "grid": false, "labelOverlap": false, "labelFlush": false, "labelBound": false, "zindex": 0
    },
    "legend": {
      "labelFont": "Liberation Sans", "titleFont": "Liberation Sans",
      "labelColor": "black", "titleColor": "black", "titleFontWeight": "normal",
      "labelFontSize": 25, "titleFontSize": 25, "padding": 0,
      "symbolStrokeWidth": 1.5, "labelOffset": 5
    }
  }
}
